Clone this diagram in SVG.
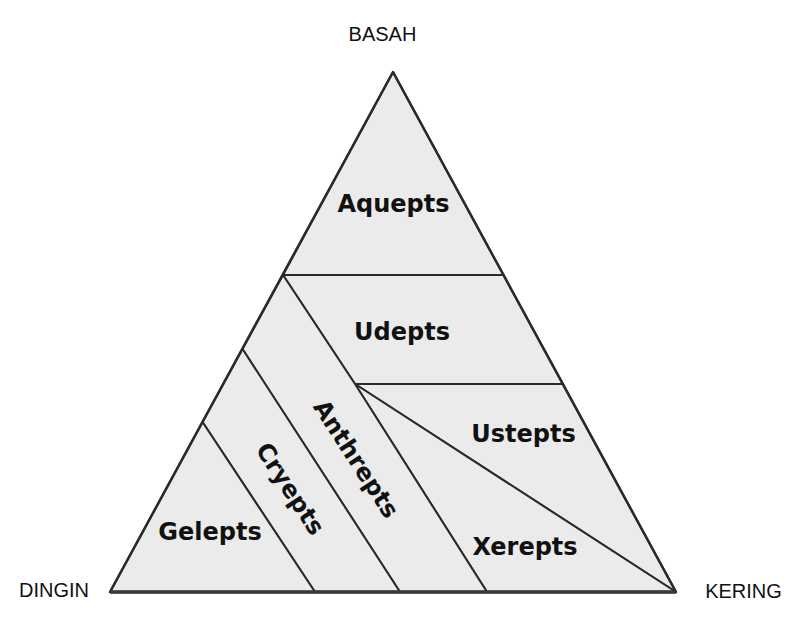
<svg xmlns="http://www.w3.org/2000/svg" width="786" height="635" viewBox="0 0 786 635">
<style>
.region{fill:#ebebeb;stroke:#2a2a2a;stroke-width:2;stroke-linejoin:round}
.lbl{font-family:"DejaVu Sans",Verdana,sans-serif;font-weight:bold;font-size:24px;fill:#111;text-anchor:middle}
.axis{font-family:"Liberation Sans",Arial,sans-serif;font-size:20px;fill:#111;text-anchor:middle}
.edge{fill:none;stroke:#2a2a2a;stroke-width:2.5;stroke-linejoin:round}
</style>
<rect width="786" height="635" fill="#ffffff"/>
<g id="aquepts">
<polygon class="region" points="393,72 503.5,275 283,275"/>
<text class="lbl" x="393.5" y="212">Aquepts</text>
</g>
<g id="udepts">
<polygon class="region" points="283,275 503.5,275 563,384 355,384"/>
<text class="lbl" x="402" y="340">Udepts</text>
</g>
<g id="ustepts">
<polygon class="region" points="355,384 563,384 676,592"/>
<text class="lbl" x="523.5" y="442">Ustepts</text>
</g>
<g id="xerepts">
<polygon class="region" points="355,384 676,592 487,592"/>
<text class="lbl" x="525" y="555">Xerepts</text>
</g>
<g id="anthrepts">
<polygon class="region" points="283,275 355,384 487,592 400,592 242.5,349"/>
<text class="lbl" transform="translate(356,459) rotate(57)" x="0" y="8">Anthrepts</text>
</g>
<g id="cryepts">
<polygon class="region" points="242.5,349 400,592 315,592 202.5,422"/>
<text class="lbl" transform="translate(290,489) rotate(57)" x="0" y="8">Cryepts</text>
</g>
<g id="gelepts">
<polygon class="region" points="202.5,422 315,592 110,592"/>
<text class="lbl" x="210" y="540">Gelepts</text>
</g>
<g id="connectors">
<polygon class="edge" points="393,72 676,592 110,592"/>
<line x1="110" y1="592" x2="676" y2="592" stroke="#3a3a3a" stroke-width="3.5"/>
</g>
<g id="basah"><text class="axis" x="382.5" y="41">BASAH</text></g>
<g id="dingin"><text class="axis" x="54" y="597">DINGIN</text></g>
<g id="kering"><text class="axis" x="743.5" y="598">KERING</text></g>
</svg>
